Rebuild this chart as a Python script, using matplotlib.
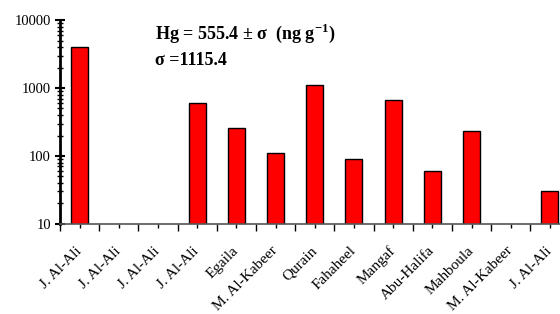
import matplotlib.pyplot as plt
import matplotlib.ticker as mticker
import numpy as np

# Sampling sites and Hg concentrations (ng g-1); None = no bar
sites = ["J. Al-Ali", "J. Al-Ali", "J. Al-Ali", "J. Al-Ali", "Egaila", "M. Al-Kabeer",
         "Qurain", "Fahaheel", "Mangaf", "Abu-Halifa", "Mahboula", "M. Al-Kabeer", "J. Al-Ali"]
hg = [4000, None, None, 600, 260, 110, 1100, 90, 670, 61, 230, None, 31]

plt.rcParams['font.family'] = ['Liberation Serif', 'DejaVu Serif']
plt.rcParams['mathtext.fontset'] = 'custom'
plt.rcParams['mathtext.rm'] = 'Liberation Serif'
plt.rcParams['mathtext.bf'] = 'Liberation Serif:bold'

fig = plt.figure(figsize=(5.6, 3.14), dpi=100)
ax = fig.add_axes([0.107, 0.287, 0.91, 0.649])

x = np.arange(len(sites))
vals = [v if v is not None else np.nan for v in hg]
ax.bar(x, vals, width=0.43, bottom=0, color='#ff0000', edgecolor='black', linewidth=1)

ax.set_yscale('log')
ax.set_ylim(10, 10000)
ax.set_xlim(-0.5, len(sites) - 0.5)

ax.yaxis.set_major_locator(mticker.LogLocator(base=10, numticks=10))
ax.yaxis.set_minor_locator(mticker.LogLocator(base=10, subs=np.arange(2, 10), numticks=10))
ax.yaxis.set_major_formatter(mticker.FuncFormatter(lambda v, p: f'{int(v)}'))
ax.yaxis.set_minor_formatter(mticker.NullFormatter())
ax.tick_params(axis='y', which='major', direction='inout', length=7, width=1.5, labelsize=10.5, pad=3)
ax.tick_params(axis='y', which='minor', direction='inout', length=4, width=1)

ax.set_xticks(x)
ax.set_xticklabels(sites, rotation=45, ha='right', va='center', rotation_mode='anchor', fontsize=11)
ax.set_xticks(np.arange(-0.5, len(sites), 1), minor=True)
ax.tick_params(axis='x', which='major', direction='out', length=3, width=1, pad=15)
ax.tick_params(axis='x', which='minor', direction='out', length=5, width=1)

ax.spines['top'].set_visible(False)
ax.spines['right'].set_visible(False)
ax.spines['left'].set_linewidth(2)
ax.spines['bottom'].set_linewidth(1.2)
ax.spines['bottom'].set_color('#555555')

fig.text(0.277, 0.877, 'Hg = 555.4 ± σ  (ng g$^{\\mathbf{-1}}$)',
         fontsize=13, fontweight='bold', va='baseline')
fig.text(0.277, 0.793, 'σ =1115.4', fontsize=13, fontweight='bold', va='baseline')

fig.savefig('out.png', dpi=100)
